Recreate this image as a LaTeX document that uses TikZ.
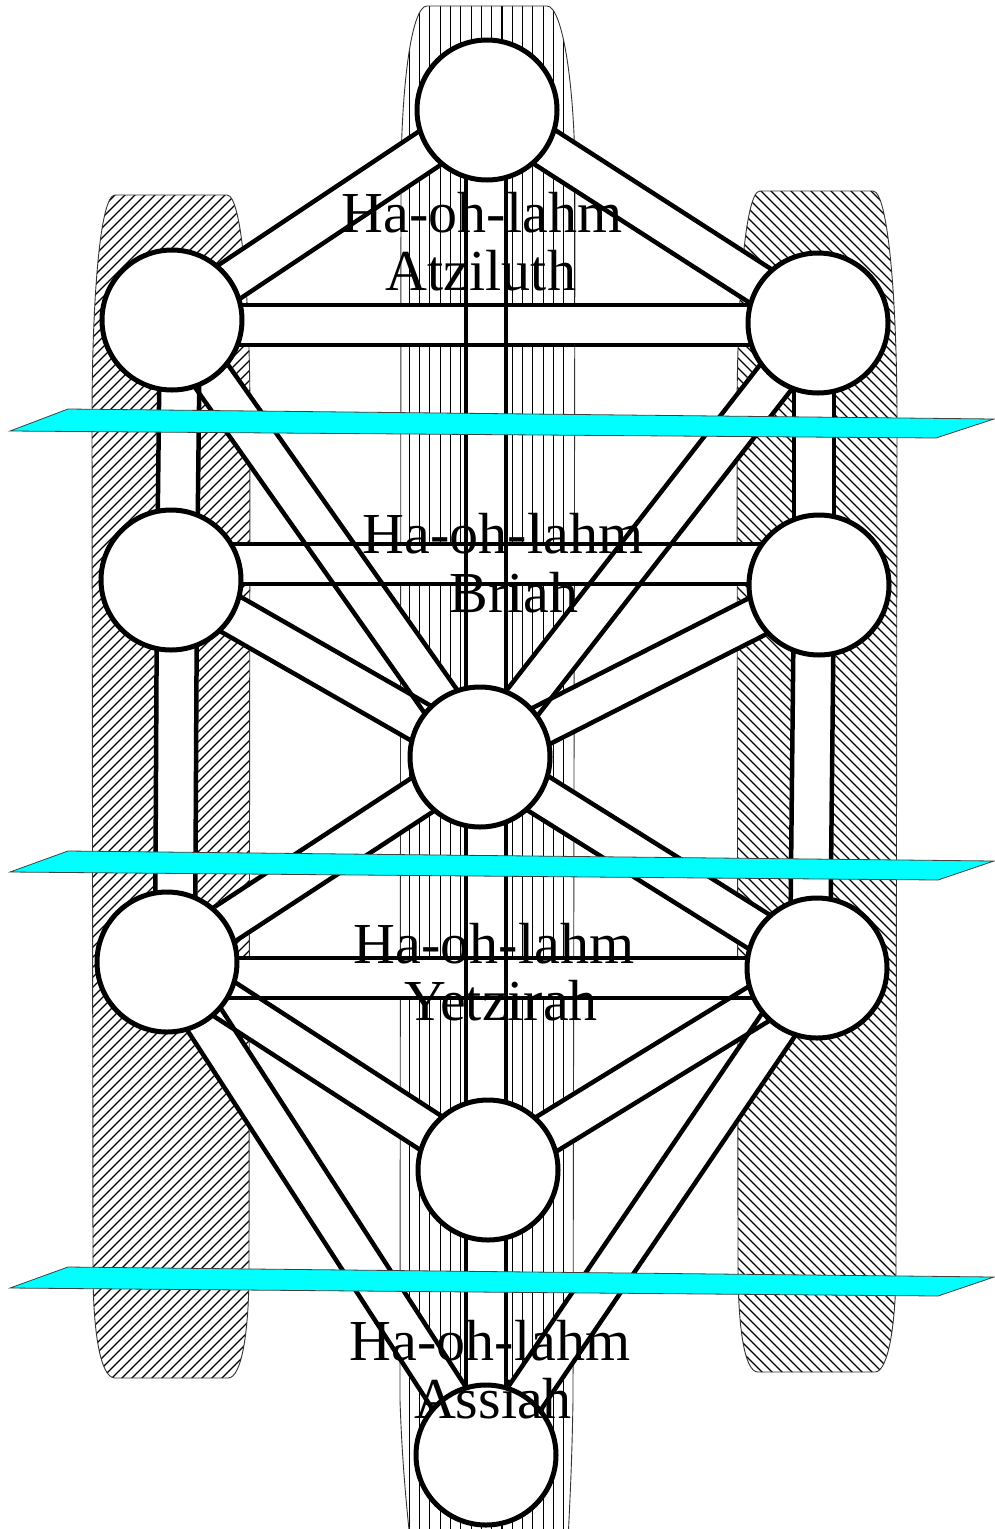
\documentclass[tikz,border=0pt]{standalone}
\usepackage{fontspec}
\setmainfont{Liberation Serif}
\usetikzlibrary{calc}
\definecolor{planecyan}{RGB}{0,255,255}
\begin{document}
\begin{tikzpicture}[x=1pt,y=-1pt,
  sephira/.style={circle, draw=black, fill=white, line width=5pt, minimum size=140pt, inner sep=0pt},
  bandfill/.style={line width=44pt, white},
  edge/.style={line width=4.5pt, black},
  hatch/.style={line width=1.1pt, black},
  pillar/.style={draw=black!80, line width=0.9pt},
  plane/.style={fill=planecyan, draw=black!75, line width=0.8pt},
  lbl/.style={font=\fontsize{58}{58}\selectfont, inner sep=0pt, anchor=base}]
\useasboundingbox (0,0) rectangle (994,1529);

% centres
\coordinate (k)  at (487,110);
\coordinate (ch) at (818,323);
\coordinate (bi) at (172,320);
\coordinate (he) at (819,585);
\coordinate (ge) at (171,580);
\coordinate (ti) at (480,757);
\coordinate (ne) at (817,968);
\coordinate (ho) at (167,962);
\coordinate (ye) at (488,1170);
\coordinate (ma) at (486,1455);
% band end points that are off-centre
\coordinate (bi5) at (172,325);
\coordinate (ch2) at (818,325);
\coordinate (geu) at (171,564);
\coordinate (heu) at (819,564);
\coordinate (hod) at (167,978);
\coordinate (ned) at (817,978);
\coordinate (kc)  at (486,110);
\coordinate (mc)  at (486,1455);
\coordinate (bix) at (180,320);
\coordinate (gex) at (177,580);
\coordinate (hox) at (175,962);
\coordinate (chx) at (814,323);
\coordinate (hex) at (814,585);
\coordinate (nex) at (810,968);

% pillars
\path[pillar, path picture={
   \foreach \c in {-1400,-1390,...,300} \draw[hatch] (\c,1420) -- ++(1300,-1300);}]
  (115,195) -- (227,195) .. controls (242,195) and (250,300) .. (250,420)
  -- (249,1270) .. controls (249,1330) and (242,1378) .. (228,1378)
  -- (115,1378) .. controls (100,1378) and (93,1330) .. (93,1270)
  -- (92,420) .. controls (92,300) and (100,195) .. (115,195) -- cycle;
\path[pillar, path picture={
   \foreach \c in {600,610,...,2200} \draw[hatch] (\c,1420) -- ++(-1300,-1300);}]
  (760,191) -- (873,191) .. controls (888,191) and (897,300) .. (897,420)
  -- (896,1265) .. controls (896,1325) and (888,1372) .. (875,1372)
  -- (758,1372) .. controls (744,1372) and (738,1325) .. (738,1265)
  -- (737,420) .. controls (737,300) and (745,191) .. (760,191) -- cycle;
\path[pillar, path picture={
   \foreach \i in {0,...,18} \draw[hatch] (399+10.3*\i,0) -- ++(0,1529);}]
  (427,6) -- (547,6) .. controls (562,6) and (574,80) .. (575,170)
  -- (573,1400) .. controls (572,1460) and (570,1500) .. (568,1540)
  -- (410,1540) .. controls (406,1500) and (402,1460) .. (400,1400)
  -- (401,170) .. controls (402,80) and (412,6) .. (427,6) -- cycle;

% paths (bands): white bodies first, then all edges
\def\bandlist{k/ch,k/bi,bi/ti,ch/ti,ge/ti,he/ti,ti/ne,ti/ho,ne/ye,ho/ye,ne/ma,ho/ma,bi5/ch2,geu/heu,hod/ned,kc/mc,bix/gex,gex/hox,chx/hex,hex/nex}
\foreach \a/\b in \bandlist
  \draw[bandfill] (\a) -- (\b);
\foreach \a/\b in \bandlist {
  \draw[edge] ($(\a)!20pt!90:(\b)$) -- ($(\b)!20pt!-90:(\a)$);
  \draw[edge] ($(\a)!20pt!-90:(\b)$) -- ($(\b)!20pt!90:(\a)$);
}

% sephiroth
\foreach \n in {k,ch,bi,he,ge,ti,ne,ho,ye,ma}
  \node[sephira] (s\n) at (\n) {};

% planes
\draw[plane] (10,431) -- (68,409) -- (994,419) -- (936,438) -- cycle;
\draw[plane] (10,872) -- (68,851) -- (994,861) -- (938,880) -- cycle;
\draw[plane] (10,1288) -- (68,1267) -- (994,1277) -- (938,1296) -- cycle;

% labels
\node[lbl] (a1) at (482,232) {Ha-oh-lahm};
\node[lbl] (a2) at (481,290) {Atziluth};
\node[lbl] (b1) at (503,553) {Ha-oh-lahm};
\node[lbl] (b2) at (514,612) {Briah};
\node[lbl] (y1) at (494,963) {Ha-oh-lahm};
\node[lbl] (y2) at (501,1020) {Yetzirah};
\node[lbl] (m1) at (490,1360) {Ha-oh-lahm};
\node[lbl] (m2) at (493,1418) {Assiah};
\end{tikzpicture}
\end{document}
